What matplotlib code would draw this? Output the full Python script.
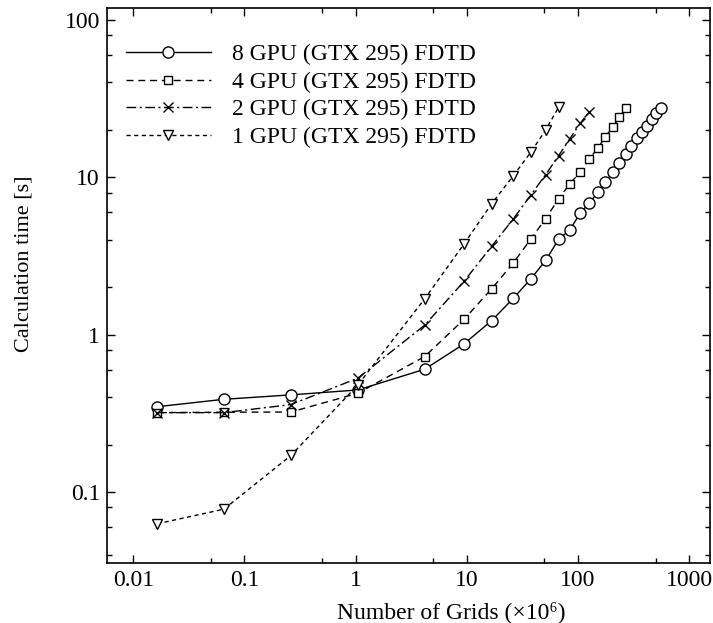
import numpy as np
import matplotlib
matplotlib.use("Agg")
import matplotlib.pyplot as plt
from matplotlib.ticker import LogLocator, FixedLocator, FixedFormatter, NullFormatter

plt.rcParams['font.family'] = ['Liberation Serif', 'DejaVu Sans']

# === data (grid count in millions, time in seconds) ===
grids = [0.0164, 0.0655, 0.262, 1.05, 4.19, 9.44, 16.8, 26.2, 37.7, 51.4,
         67.1, 84.9, 104.9, 126.9, 151.0, 177.2, 205.5, 235.9, 268.4, 303.0,
         339.7, 378.5, 419.4, 462.4, 507.5, 554.7]

t_8gpu = [0.349, 0.389, 0.415, 0.446, 0.604, 0.873, 1.23, 1.70, 2.26, 2.97,
          4.03, 4.64, 5.92, 6.85, 8.02, 9.3, 10.8, 12.4, 14.1, 15.9,
          17.8, 19.5, 21.2, 23.5, 25.5, 27.6]
t_4gpu = [0.320, 0.322, 0.323, 0.425, 0.727, 1.25, 1.96, 2.85, 4.05, 5.46,
          7.3, 9.1, 10.8, 13.1, 15.3, 18.1, 20.8, 24.0, 27.5]
t_2gpu = [0.320, 0.320, 0.360, 0.53, 1.15, 2.18, 3.65, 5.43, 7.7, 10.4,
          13.7, 17.6, 22.0, 26.1]
t_1gpu = [0.063, 0.078, 0.171, 0.48, 1.69, 3.76, 6.8, 10.2, 14.4, 20.0, 27.8]

labels = ["8 GPU (GTX 295) FDTD", "4 GPU (GTX 295) FDTD",
          "2 GPU (GTX 295) FDTD", "1 GPU (GTX 295) FDTD"]

fig = plt.figure(figsize=(7.13, 6.23), dpi=100)
ax = fig.add_axes([0.150, 0.0963, 0.846, 0.891])

style = dict(color='black', linewidth=1.0, markerfacecolor='white',
             markeredgecolor='black', markeredgewidth=1.0)
ax.plot(grids[:len(t_8gpu)], t_8gpu, linestyle='-', marker='o', markersize=8.0,
        label=labels[0], **style)
ax.plot(grids[:len(t_4gpu)], t_4gpu, linestyle=(0, (5, 3.5)), marker='s', markersize=5.2,
        label=labels[1], **style)
ax.plot(grids[:len(t_2gpu)], t_2gpu, linestyle=(0, (7, 2.5, 1.5, 2.5)), marker='x', markersize=6.5,
        label=labels[2], **style)
ax.plot(grids[:len(t_1gpu)], t_1gpu, linestyle=(0, (3, 2.5)), marker='v', markersize=6.5,
        label=labels[3], **style)

ax.set_xscale('log')
ax.set_yscale('log')
ax.set_xlim(0.0058, 1550)
ax.set_ylim(0.0355, 119)

xt = [0.01, 0.1, 1, 10, 100, 1000]
ax.xaxis.set_major_locator(FixedLocator(xt))
ax.xaxis.set_major_formatter(FixedFormatter(["0.01", "0.1", "1", "10", "100", "1000"]))
ax.xaxis.set_minor_locator(LogLocator(base=10, subs=[5], numticks=20))
ax.xaxis.set_minor_formatter(NullFormatter())

yt = [0.1, 1, 10, 100]
ax.yaxis.set_major_locator(FixedLocator(yt))
ax.yaxis.set_major_formatter(FixedFormatter(["0.1", "1", "10", "100"]))
ax.yaxis.set_minor_locator(LogLocator(base=10, subs=[2, 4, 6, 8], numticks=20))
ax.yaxis.set_minor_formatter(NullFormatter())

ax.tick_params(which='both', direction='in', top=True, right=True, width=1.0)
ax.tick_params(which='major', length=6, labelsize=17, pad=5)
ax.tick_params(which='minor', length=3.5)
for sp in ax.spines.values():
    sp.set_linewidth(1.2)

ax.set_xlabel("Number of Grids (\u00d710\u2076)", fontsize=17)
ax.xaxis.set_label_coords(0.571, -0.068)
ax.set_ylabel("Calculation time [s]", fontsize=16)
ax.yaxis.set_label_coords(-0.122, 0.54)

ax.legend(loc='upper left', bbox_to_anchor=(0.031, 0.935), frameon=False,
          fontsize=17, handlelength=3.6, handletextpad=0.9, labelspacing=0.25,
          borderaxespad=0.0, borderpad=0.0)

fig.savefig("out.png", dpi=100)
